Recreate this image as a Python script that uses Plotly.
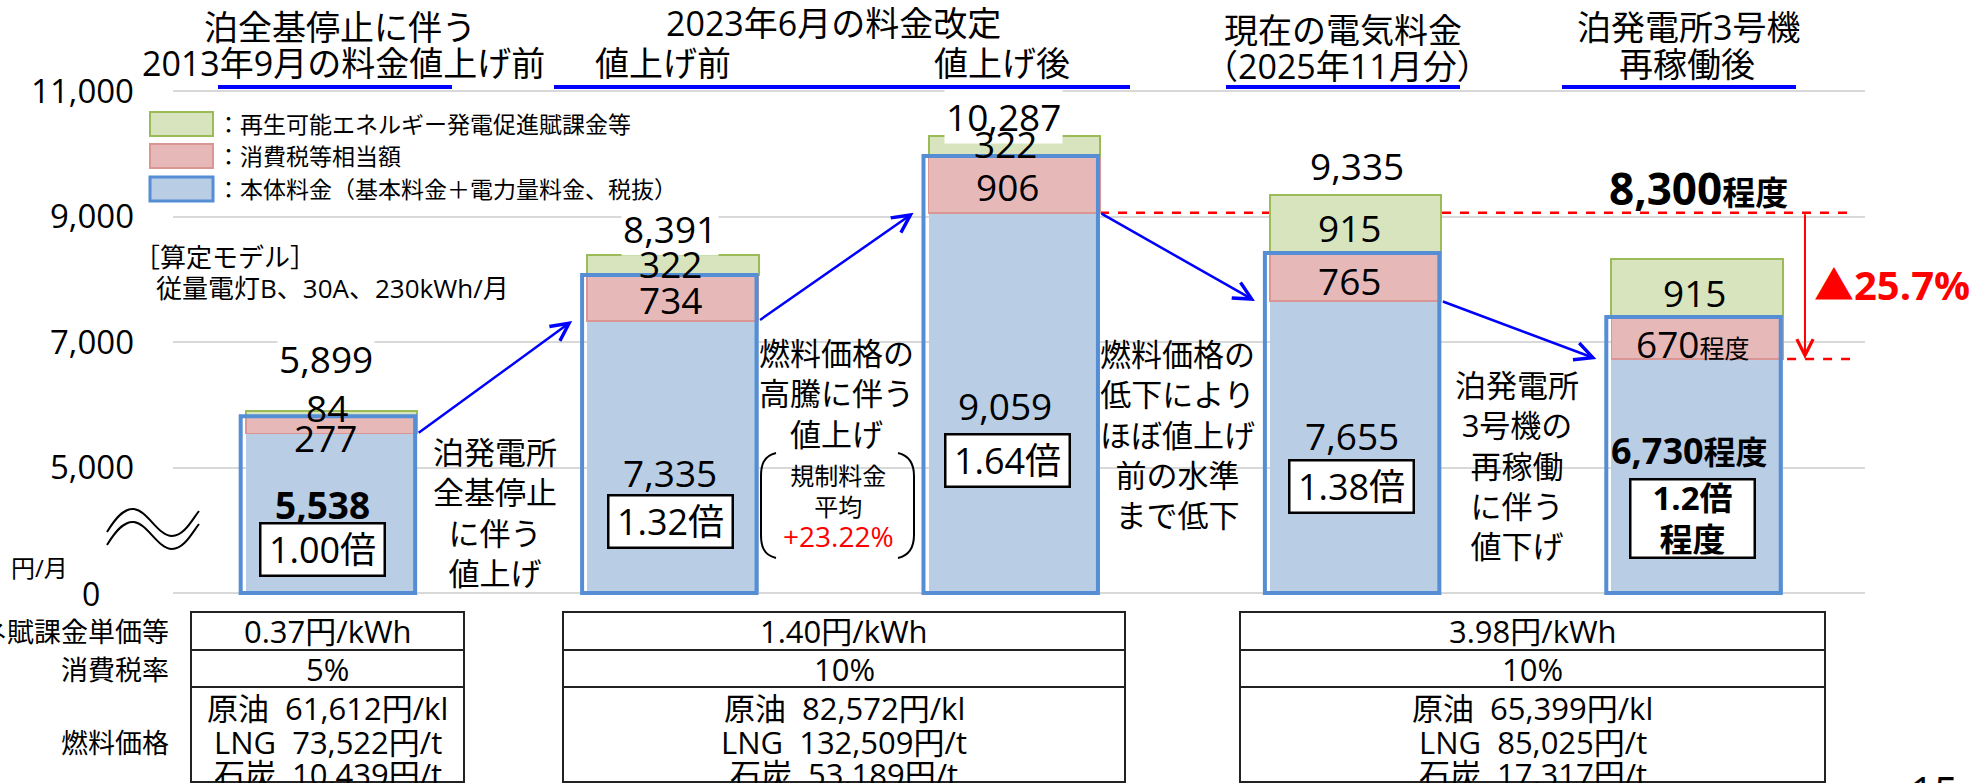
import plotly.graph_objects as go

W, H = 1981, 783
FONT = "Open Sans, Noto Sans CJK JP"

# --- data -------------------------------------------------------------
categories = ["2013年9月値上げ前", "2023年6月値上げ前", "2023年6月値上げ後",
              "2025年11月分", "3号機再稼働後"]
base_fee = [5538, 7335, 9059, 7655, 6730]          # 本体料金
consumption_tax = [277, 734, 906, 765, 670]        # 消費税等相当額
renewable_levy = [84, 322, 322, 915, 915]          # 再エネ賦課金等
ratio_labels = ["1.00倍", "1.32倍", "1.64倍", "1.38倍", "1.2倍<br>程度"]
is_estimate = [False, False, False, False, True]

y_ticks = [0, 5000, 7000, 9000, 11000]

levy_rate = ["0.37円/kWh", "1.40円/kWh", "3.98円/kWh"]
tax_rate = ["5%", "10%", "10%"]
crude_oil = ["61,612", "82,572", "65,399"]
lng_price = ["73,522", "132,509", "85,025"]
coal_price = ["10,439", "53,189", "17,317"]

# broken axis: 0-5000 squeezed into the height of 2000
BREAK, SQUEEZE = 5000, 2000


def to_axis(v):
    return v * SQUEEZE / BREAK if v <= BREAK else v - BREAK + SQUEEZE


base_axis = [to_axis(v) for v in base_fee]
totals = [b + t + r for b, t, r in zip(base_fee, consumption_tax, renewable_levy)]

BLUE_FILL, BLUE_LINE = "#b9cde5", "#558ed5"
PINK_FILL, PINK_LINE = "#e6b9b8", "#d99694"
GREEN_FILL, GREEN_LINE = "#d7e4bd", "#9bbb59"
BAR_W = 0.502


def px(x, y):
    return x / W, 1 - y / H


def note(text, x, y, size, color="#000", bold=False, xanchor="center", **kw):
    if bold:
        text = f"<b>{text}</b>"
    xp, yp = px(x, y)
    return dict(text=text, x=xp, y=yp, xref="paper", yref="paper",
                xanchor=xanchor, yanchor="middle", showarrow=False,
                font=dict(size=size, color=color, family=FONT), **kw)


fig = go.Figure()
fig.add_trace(go.Bar(x=categories, y=base_axis, width=BAR_W, name="本体料金",
                     marker=dict(color=BLUE_FILL, line=dict(width=0))))
fig.add_trace(go.Bar(x=categories, y=consumption_tax, width=BAR_W, name="消費税等相当額",
                     marker=dict(color=PINK_FILL, line=dict(color=PINK_LINE, width=1.5))))
fig.add_trace(go.Bar(x=categories, y=renewable_levy, width=BAR_W, name="再エネ賦課金等",
                     marker=dict(color=GREEN_FILL, line=dict(color=GREEN_LINE, width=2))))

shapes = []
annotations = []

# blue outline around 本体料金 + 消費税
for i in range(len(categories)):
    shapes.append(dict(type="rect", xref="x", yref="y",
                       x0=i - BAR_W / 2 - 0.015, x1=i + BAR_W / 2 - 0.006,
                       y0=0, y1=base_axis[i] + consumption_tax[i],
                       line=dict(color=BLUE_LINE, width=4)))

# blue arrows between bars (base level to base level)
for i in range(len(categories) - 1):
    annotations.append(dict(x=i + 1 - BAR_W / 2 - 0.044, y=base_axis[i + 1],
                            ax=i + BAR_W / 2, ay=base_axis[i],
                            xref="x", yref="y", axref="x", ayref="y", text="",
                            showarrow=True, arrowhead=5, arrowsize=1.4,
                            arrowwidth=2.5, arrowcolor="#0000ff", standoff=0))

# red comparison: 値上げ後 base vs 再稼働後 base
RIGHT_END = 4.448
shapes.append(dict(type="line", xref="x", yref="y", layer="between",
                   x0=2 + BAR_W / 2, x1=RIGHT_END, y0=base_axis[2], y1=base_axis[2],
                   line=dict(color="#ff0000", width=2.5, dash="dash")))
shapes.append(dict(type="line", xref="x", yref="y", layer="between",
                   x0=4, x1=RIGHT_END, y0=base_axis[4], y1=base_axis[4],
                   line=dict(color="#ff0000", width=2.5, dash="dash")))
annotations.append(dict(x=4.316, y=base_axis[4], ax=4.316, ay=base_axis[2],
                        xref="x", yref="y", axref="x", ayref="y", text="",
                        showarrow=True, arrowhead=5, arrowsize=1.6, arrowwidth=2,
                        arrowcolor="#ff0000", standoff=0))
drop = (base_fee[2] - base_fee[4]) / base_fee[2] * 100
annotations.append(note(f"▲{drop:.1f}%", 1892, 284, 40, color="#ff0000", bold=True))

# bar labels
total_pos = [(326, 359), (670, 229), (1004, 116), (1357, 165), (1698, 188)]
levy_pos = [(327, 407), (670, 263), (1005, 143), (1349, 227), (1694, 292)]
tax_pos = [(325, 437), (670, 299), (1007, 187), (1349, 280), (1692, 343)]
base_pos = [(322, 504), (670, 473), (1005, 405), (1352, 435), (1689, 450)]
ratio_pos = [(322, 549), (670, 521), (1007, 460), (1351, 487), (1692, 518)]
base_bold = [True, False, False, False, True]
LBL = 37

for i in range(len(categories)):
    if is_estimate[i]:
        t_txt = (f"<b>{round(totals[i], -2):,}</b>"
                 "<b><span style='font-size:33px'>程度</span></b>")
        annotations.append(note(t_txt, *total_pos[i], 44))
        tax_txt = f"{consumption_tax[i]:,}<span style='font-size:25px'>程度</span>"
        base_txt = f"{base_fee[i]:,}<span style='font-size:32px'>程度</span>"
    else:
        annotations.append(note(f"{totals[i]:,}", *total_pos[i], LBL, bgcolor="#fff"))
        tax_txt = f"{consumption_tax[i]:,}"
        base_txt = f"{base_fee[i]:,}"
    annotations.append(note(f"{renewable_levy[i]:,}", *levy_pos[i], LBL))
    annotations.append(note(tax_txt, *tax_pos[i], LBL))
    annotations.append(note(base_txt, *base_pos[i], 36 if is_estimate[i] else LBL,
                            bold=base_bold[i]))
    two = "<br>" in ratio_labels[i]
    annotations.append(note(ratio_labels[i], *ratio_pos[i], 33 if two else 36,
                            bold=is_estimate[i], bgcolor="#fff", bordercolor="#000",
                            borderwidth=2.5, borderpad=2, width=118,
                            height=72 if two else 46))

# y axis extras
annotations.append(note("0", 91, 593, 32))
annotations.append(note("円/月", 39, 567, 24))

# header
headers = [("泊全基停止に伴う", 340, 27), ("2013年9月の料金値上げ前", 343, 63),
           ("2023年6月の料金改定", 833, 23), ("値上げ前", 663, 63), ("値上げ後", 1002, 63),
           ("現在の電気料金", 1343, 30), ("（2025年11月分）", 1347, 66),
           ("泊発電所3号機", 1688, 27), ("再稼働後", 1687, 64)]
for t, x, y in headers:
    annotations.append(note(t, x, y, 34))
for x0, x1 in [(218, 452), (554, 1130), (1226, 1460), (1562, 1796)]:
    a, b = px(x0, 87)
    c, _ = px(x1, 87)
    shapes.append(dict(type="line", xref="paper", yref="paper", x0=a, x1=c, y0=b, y1=b,
                       line=dict(color="#0000ff", width=4)))

# legend drawn by hand
legend_items = [("：再生可能エネルギー発電促進賦課金等", GREEN_FILL, GREEN_LINE, 2, 124),
                ("：消費税等相当額", PINK_FILL, PINK_LINE, 2, 156),
                ("：本体料金（基本料金＋電力量料金、税抜）", BLUE_FILL, BLUE_LINE, 3, 189)]
for t, fill, line, lw, yc in legend_items:
    x0, y0 = px(150, yc - 12)
    x1, y1 = px(213, yc + 12)
    shapes.append(dict(type="rect", xref="paper", yref="paper", x0=x0, x1=x1, y0=y0, y1=y1,
                       fillcolor=fill, line=dict(color=line, width=lw)))
    annotations.append(note(t, 215, yc, 23, xanchor="left"))

annotations.append(note("［算定モデル］", 132, 257, 26, xanchor="left"))
annotations.append(note("従量電灯B、30A、230kWh/月", 154, 288, 26, xanchor="left"))

# explanations between bars
annotations.append(note("泊発電所<br>全基停止<br>に伴う<br>値上げ", 495, 512, 31))
annotations.append(note("燃料価格の<br>高騰に伴う<br>値上げ", 836, 394, 31))
annotations.append(note("規制料金<br>平均<br><span style='color:#ff0000;font-size:28px'>"
                        "+23.22%</span>", 838, 507, 24))
annotations.append(note("燃料価格の<br>低下により<br>ほぼ値上げ<br>前の水準<br>まで低下", 1177, 434, 31))
annotations.append(note("泊発電所<br>3号機の<br>再稼働<br>に伴う<br>値下げ", 1517, 465, 31))


def path(points_str):
    out = []
    for tok in points_str.split():
        if "," in tok:
            x, y = tok.split(",")
            xp, yp = px(float(x), float(y))
            out.append(f"{xp:.5f},{yp:.5f}")
        else:
            out.append(tok)
    return " ".join(out)


# brackets around 規制料金平均
for p in ["M 776,453 C 763,456 761,466 761,476 L 761,535 C 761,545 763,555 776,558",
          "M 898,453 C 911,456 914,466 914,476 L 914,535 C 914,545 911,555 898,558"]:
    shapes.append(dict(type="path", xref="paper", yref="paper", path=path(p),
                       line=dict(color="#000", width=2)))
# axis break mark
for dy in (0, 13):
    p = (f"M 107,{532 + dy} C 118,{514 + dy} 126,{508 + dy} 134,{509 + dy} "
         f"C 148,{511 + dy} 158,{536 + dy} 172,{536 + dy} "
         f"C 184,{536 + dy} 192,{520 + dy} 199,{511 + dy}")
    shapes.append(dict(type="path", xref="paper", yref="paper", path=path(p),
                       line=dict(color="#000", width=2)))

# table under the chart
TBL = 31
table_cols = [(191, 464), (563, 1125), (1240, 1825)]
for k, (x0, x1) in enumerate(table_cols):
    a, top = px(x0, 612)
    b, bot = px(x1, 782)
    shapes.append(dict(type="rect", xref="paper", yref="paper", x0=a, x1=b, y0=bot, y1=top,
                       line=dict(color="#222", width=2)))
    for yl in (650, 687):
        _, yy = px(0, yl)
        shapes.append(dict(type="line", xref="paper", yref="paper", x0=a, x1=b, y0=yy, y1=yy,
                           line=dict(color="#222", width=2)))
    cx = (x0 + x1) / 2
    annotations.append(note(levy_rate[k], cx, 631, TBL))
    annotations.append(note(tax_rate[k], cx, 669, TBL))
    annotations.append(note(f"原油\u00a0\u00a0{crude_oil[k]}円/kl", cx, 708, TBL))
    annotations.append(note(f"LNG\u00a0\u00a0{lng_price[k]}円/t", cx, 742, TBL))
    annotations.append(note(f"石炭\u00a0\u00a0{coal_price[k]}円/t", cx, 774, TBL))

annotations.append(note("再エネ賦課金単価等", 171, 631, 27, xanchor="right"))
annotations.append(note("消費税率", 171, 669, 27, xanchor="right"))
annotations.append(note("燃料価格", 171, 742, 27, xanchor="right"))
annotations.append(note("15", 1934, 790, 42))

# axis geometry: gridlines run from x=173 to x=1865, 0 at y=593, 11,000 at y=91
px_per_unit = (593 - 91) / to_axis(11000)
y_bottom = -(H - 593) / px_per_unit
y_top = 593 / px_per_unit
cat_step = 341.4
x_lo = -(331.5 - 173) / cat_step
x_hi = 4 + (1865 - 1697.1) / cat_step

fig.update_layout(
    width=W, height=H,
    margin=dict(l=0, r=0, t=0, b=0),
    barmode="stack",
    showlegend=False,
    plot_bgcolor="#ffffff",
    paper_bgcolor="#ffffff",
    font=dict(family=FONT, color="#000"),
    xaxis=dict(type="category", domain=[173 / W, 1865 / W], range=[x_lo, x_hi],
               showticklabels=False, showgrid=False, zeroline=False, showline=False),
    yaxis=dict(range=[y_bottom, y_top], tickvals=[to_axis(v) for v in y_ticks],
               ticktext=["" if v == 0 else f"{v:,}" for v in y_ticks],
               showgrid=True, gridcolor="#d9d9d9", gridwidth=2, zeroline=False,
               showline=False, ticks="", ticklabelstandoff=38,
               tickfont=dict(size=33, family=FONT, color="#000")),
    shapes=shapes,
    annotations=annotations,
)

fig.write_html("out.html", config={"displayModeBar": False},
               post_script="document.body.style.margin='0';")
